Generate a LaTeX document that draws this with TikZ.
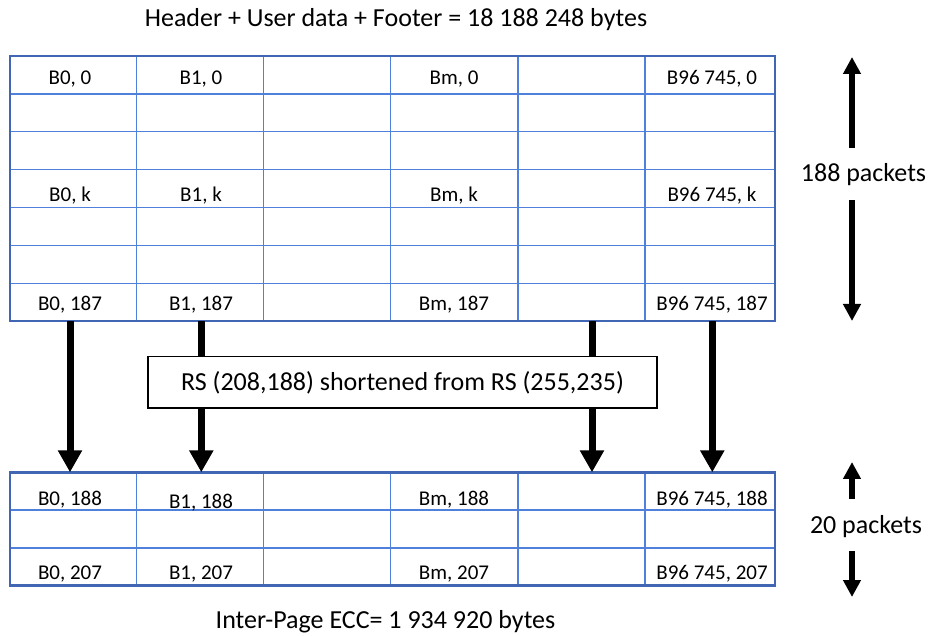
\documentclass[tikz,border=0pt]{standalone}
\usepackage{fontspec}
\setmainfont{Carlito}
\usetikzlibrary{arrows.meta}
\definecolor{outerblue}{RGB}{64,102,180}
\definecolor{innerblue}{RGB}{78,128,220}
\begin{document}
\begin{tikzpicture}[x=1pt,y=-1pt,
  cell/.style={font=\fontsize{21}{25}\selectfont, anchor=base, inner sep=0pt},
  big/.style={font=\fontsize{26}{31}\selectfont, inner sep=0pt},
  flow/.style={line width=7pt, -{Triangle[width=23pt,length=22pt]}},
  shaft/.style={line width=7pt},
  span/.style={line width=6pt, -{Triangle[width=17pt,length=17pt]}},
  gridline/.style={innerblue, line width=1.4pt},
  frame/.style={outerblue, line width=2.6pt},
  tablebox/.style={draw=none, inner sep=0pt, anchor=north west}]
\useasboundingbox (0,0) rectangle (930,636);

% title
\node[big, anchor=base] (title) at (396,26.7) {Header + User data + Footer = 18 188 248 bytes};

% top table
\node[tablebox, minimum width=765pt, minimum height=265pt] (top) at (10,56) {};
\foreach \y in {93.9,131.7,169.6,207.5,245.4,283.3}
  \draw[gridline] (10,\y) -- (775,\y);
\foreach \x in {136.5,263.5,390.5,518,645}
  \draw[gridline] (\x,56) -- (\x,321);
\draw[frame] (10,56) rectangle (775,321);

\node[cell] (t00) at (70,85) {B0, 0};
\node[cell] (t10) at (201,85) {B1, 0};
\node[cell] (tm0) at (454,85) {Bm, 0};
\node[cell] (tl0) at (712,85) {B96 745, 0};
\node[cell] (t0k) at (70,202) {B0, k};
\node[cell] (t1k) at (201,202) {B1, k};
\node[cell] (tmk) at (454,202) {Bm, k};
\node[cell] (tlk) at (712,202) {B96 745, k};
\node[cell] (t0e) at (70,311) {B0, 187};
\node[cell] (t1e) at (201,311) {B1, 187};
\node[cell] (tme) at (454,311) {Bm, 187};
\node[cell] (tle) at (712,311) {B96 745, 187};

% bottom table
\node[tablebox, minimum width=765pt, minimum height=113.4pt] (bot) at (10,472.3) {};
\foreach \y in {510,548}
  \draw[gridline] (10,\y) -- (775,\y);
\foreach \x in {136.5,263.5,390.5,518,645}
  \draw[gridline] (\x,472.3) -- (\x,585.7);
\draw[frame] (10,472.3) rectangle (775,585.7);

\node[cell] (b0a) at (70,506) {B0, 188};
\node[cell] (b1a) at (201,508) {B1, 188};
\node[cell] (bma) at (454,505) {Bm, 188};
\node[cell] (bla) at (712,506) {B96 745, 188};
\node[cell] (b0z) at (70,579) {B0, 207};
\node[cell] (b1z) at (201,579) {B1, 207};
\node[cell] (bmz) at (454,579) {Bm, 207};
\node[cell] (blz) at (712,579) {B96 745, 207};

% RS box
\node[big, draw, line width=1.5pt, fill=white, minimum width=509pt, minimum height=51.5pt] (rs) at (402.5,382.5) {RS (208,188) shortened from RS (255,235)};

% column coordinates for arrows
\coordinate (c1) at (70,0);
\coordinate (c2) at (201.3,0);
\coordinate (c3) at (592,0);
\coordinate (c4) at (712.3,0);

\draw[flow] (top.south -| c1) -- (bot.north -| c1);
\draw[shaft] (top.south -| c2) -- (rs.north -| c2);
\draw[flow] (rs.south -| c2) -- (bot.north -| c2);
\draw[shaft] (top.south -| c3) -- (rs.north -| c3);
\draw[flow] (rs.south -| c3) -- (bot.north -| c3);
\draw[flow] (top.south -| c4) -- (bot.north -| c4);

% packet counts
\node[big] (n188) at (863.5,175) {188 packets};
\coordinate (u1) at (852,57);
\coordinate (u1s) at (852,148);
\coordinate (d1s) at (852,200);
\coordinate (d1) at (852,321);
\draw[span] (u1s) -- (u1);
\draw[span] (d1s) -- (d1);

\node[big] (n20) at (866,527) {20 packets};
\coordinate (u2) at (852,462);
\coordinate (u2s) at (852,499);
\coordinate (d2s) at (852,551);
\coordinate (d2) at (852,597);
\draw[span] (u2s) -- (u2);
\draw[span] (d2s) -- (d2);

% bottom caption
\node[big, anchor=base] (ecc) at (385.5,628.3) {Inter-Page ECC= 1 934 920 bytes};
\end{tikzpicture}
\end{document}
